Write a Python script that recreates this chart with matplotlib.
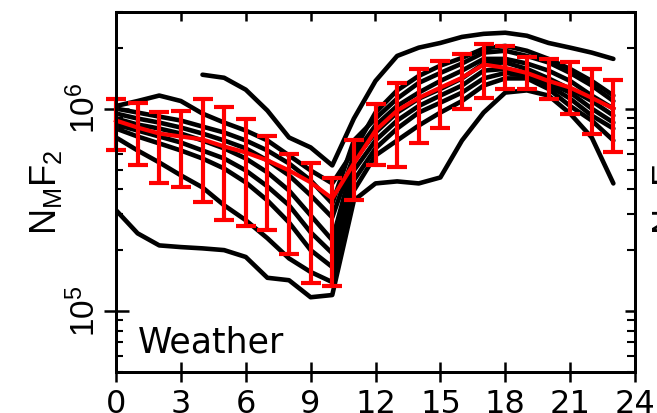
import numpy as np
import matplotlib
matplotlib.use("Agg")
import matplotlib.pyplot as plt
from matplotlib.ticker import FixedLocator, LogLocator, NullFormatter
from matplotlib.transforms import ScaledTranslation

plt.rcParams['font.family'] = ['Liberation Sans', 'DejaVu Sans']
plt.rcParams['mathtext.fontset'] = 'custom'
plt.rcParams['mathtext.rm'] = 'Liberation Sans'
plt.rcParams['mathtext.it'] = 'Liberation Sans'
plt.rcParams['mathtext.default'] = 'regular'

# Local time (hours)
hours = np.arange(24)
nan = np.nan

# Individual diurnal NmF2 curves, in units of 1e5 el/cm^3
curve_a = [nan, nan, nan, nan, 14.7, 14.2, 12.4, 9.78, 7.20, 6.43, 5.24, 8.93,
           13.7, 18.2, 20.0, 21.1, 22.6, 23.4, 23.7, 22.9, 21.1, 20.0, 18.9, 17.6]
curve_b = [3.15, 2.42, 2.11, 2.07, 2.04, 2.00, 1.85, 1.46, 1.42, 1.17, 1.20, 3.52,
           4.27, 4.37, 4.27, 4.57, 6.96, 9.56, 12.0, 12.3, 11.6, 9.45, 7.20, 4.27]
curve_c = [10.3, 10.9, 11.6, 10.9, 9.45, 8.53, 7.79, 6.96, 5.87, 4.95, 4.27, 6.21,
           9.56, 12.3, 14.5, 16.3, 17.8, 19.8, 20.4, 19.3, 17.6, 15.7, 13.7, 11.6]
curve_d = [7.20, 6.21, 5.42, 4.68, 4.08, 3.33, 2.81, 2.29, 1.82, 1.56, 1.39, 3.94,
           5.87, 6.96, 8.25, 9.56, 10.9, 13.0, 14.1, 14.1, 12.5, 10.3, 8.73, 6.96]
curve_e1 = [10.0, 9.56, 9.13, 8.73, 8.15, 7.62, 6.96, 6.21, 5.36, 4.42, 3.40, 6.96,
            8.93, 11.2, 13.4, 15.0, 16.7, 18.9, 19.3, 18.2, 16.9, 15.0, 13.0, 10.9]
curve_e2 = [9.45, 8.93, 8.53, 8.06, 7.53, 6.96, 6.36, 5.55, 4.68, 3.73, 2.90, 5.87,
            8.25, 10.3, 12.0, 13.7, 15.4, 17.6, 17.6, 16.7, 15.4, 13.7, 11.6, 10.0]
curve_e3 = [8.93, 8.34, 7.97, 7.53, 6.96, 6.36, 5.67, 4.84, 3.94, 2.97, 2.24, 5.55,
            7.62, 9.56, 11.2, 12.5, 14.1, 16.7, 16.9, 15.7, 14.1, 12.5, 10.9, 9.24]
curve_e4 = [8.34, 7.79, 7.28, 6.80, 6.21, 5.67, 4.95, 4.13, 3.33, 2.45, 1.93, 4.95,
            6.96, 8.73, 10.3, 11.6, 13.0, 15.4, 15.7, 15.0, 13.4, 12.0, 10.0, 8.53]
curve_e5 = [7.97, 7.28, 6.73, 6.21, 5.67, 5.06, 4.32, 3.52, 2.74, 2.00, 1.65, 4.42,
            6.36, 7.97, 9.56, 10.7, 12.0, 14.1, 15.0, 14.5, 13.0, 11.2, 9.24, 7.97]

# Hourly mean and spread (units of 1e5)
mean_nmf2 = [8.73, 8.06, 7.53, 7.28, 7.04, 6.50, 6.07, 5.55, 4.95, 4.32, 3.60, 5.36,
             7.79, 9.78, 11.3, 12.7, 14.2, 16.5, 15.9, 15.0, 13.7, 12.7, 11.3, 10.0]
spread_upper = [11.1, 10.6, 9.66, 9.78, 11.1, 10.2, 8.93, 7.36, 6.00, 5.36, 4.52, 6.96,
                10.5, 13.4, 15.7, 17.2, 18.7, 20.9, 20.4, 18.0, 17.6, 16.9, 15.7, 13.9]
spread_lower = [6.21, 5.24, 4.27, 4.08, 3.44, 2.81, 2.62, 2.51, 1.91, 1.37, 1.33, 3.52,
                5.24, 5.12, 6.80, 8.06, 10.0, 11.3, 12.5, 12.5, 11.2, 9.45, 7.45, 6.07]

x_ticks = [0, 3, 6, 9, 12, 15, 18, 21, 24]
y_label = 'N$_M$F$_2$'
panel_title = 'Weather'

UNIT = 1e5
curves = [curve_a, curve_b, curve_c, curve_d, curve_e1, curve_e2, curve_e3, curve_e4, curve_e5]

W, H = 657, 413
fig = plt.figure(figsize=(W / 100, H / 100), dpi=100)
ax = fig.add_axes([116 / W, 1 - 372 / H, (635 - 116) / W, (372 - 12) / H])

for c in curves:
    ax.plot(hours, np.array(c) * UNIT, color='black', lw=3.3,
            solid_joinstyle='round', solid_capstyle='round', zorder=2)

mean = np.array(mean_nmf2) * UNIT
hi = np.array(spread_upper) * UNIT
lo = np.array(spread_lower) * UNIT
eb = ax.errorbar(hours, mean, yerr=[mean - lo, hi - mean], color='#ff0000',
                 lw=3, elinewidth=3, capsize=7.5, capthick=3, zorder=3)
eb.lines[0].set_clip_on(False)
for art in eb.lines[1]:
    art.set_clip_on(False)
for coll in eb.lines[2]:
    coll.set_clip_on(False)

ax.set_yscale('log')
ax.set_xlim(0, 24)
ax.set_ylim(5e4, 3e6)
ax.set_xticks(x_ticks)
ax.yaxis.set_major_locator(FixedLocator([1e5, 1e6]))
ax.yaxis.set_minor_locator(LogLocator(base=10, subs=np.arange(2, 10)))
ax.yaxis.set_minor_formatter(NullFormatter())

for s in ax.spines.values():
    s.set_linewidth(2)

ax.tick_params(axis='x', which='major', direction='inout', length=14, width=1.8,
               labelsize=23, pad=5, top=False)
ax.tick_params(axis='y', which='major', direction='inout', length=18, width=1.8,
               labelsize=24, pad=1, right=False, labelrotation=90)
ax.tick_params(axis='y', which='minor', direction='in', length=5, width=1.5, right=False)
for lab in ax.get_yticklabels():
    lab.set_va('center')
for lab in ax.get_xticklabels():
    lab.set_fontfamily('DejaVu Sans')

# Inward ticks along the top and right edges
axr = ax.twinx()
axr.set_yscale('log')
axr.set_ylim(ax.get_ylim())
axr.yaxis.set_major_locator(FixedLocator([1e5, 1e6]))
axr.yaxis.set_minor_locator(LogLocator(base=10, subs=np.arange(2, 10)))
axr.yaxis.set_minor_formatter(NullFormatter())
axr.tick_params(axis='y', which='major', direction='in', length=7, width=1.8, labelright=False)
axr.tick_params(axis='y', which='minor', direction='in', length=5.5, width=1.5)
axt = ax.twiny()
axt.set_xlim(ax.get_xlim())
axt.set_xticks(x_ticks)
axt.tick_params(axis='x', which='major', direction='in', length=6.5, width=1.8, labeltop=False)
for a in (axr, axt):
    for s in a.spines.values():
        s.set_linewidth(2)

label_x = -0.10
ax.set_ylabel(y_label, fontsize=26)
ax.yaxis.set_label_coords(label_x, 0.5)

# Label of the neighbouring panel, cut by the figure edge
off = ScaledTranslation(623 / 100, 0, fig.dpi_scale_trans)
ax.text(label_x, 0.5, y_label, transform=ax.transAxes + off, rotation=90,
        rotation_mode='anchor', ha='center', va='bottom', fontsize=26, clip_on=False)

ax.text(0.042, 0.055, panel_title, transform=ax.transAxes, fontsize=25,
        family='DejaVu Sans', ha='left', va='baseline')

fig.savefig('out.png', dpi=100)
